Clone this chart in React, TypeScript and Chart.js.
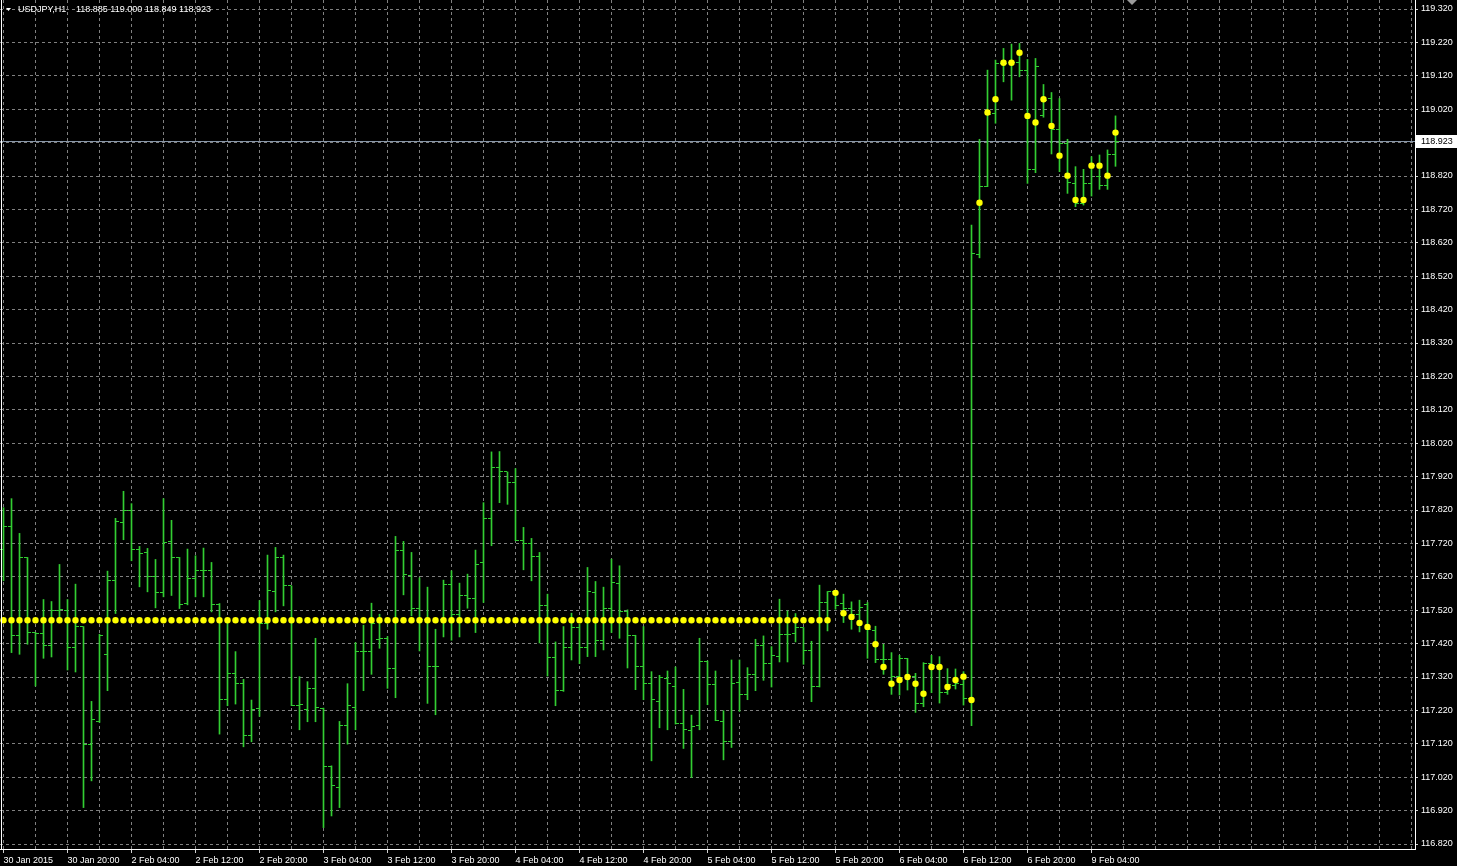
import React, { useEffect, useRef } from 'react';
import { Chart, registerables } from 'chart.js';
Chart.register(...registerables);

const headerSymbol = 'USDJPY,H1';
const headerValues = '118.885 119.000 118.849 118.923';

const opens = [
  117.703, 117.771, 117.443, 117.678, 117.453, 117.450, 117.413, 117.520, 117.520, 117.408,
  117.471, 117.119, 117.186, 117.388, 117.609, 117.783, 117.820, 117.703, 117.692, 117.620,
  117.573, 117.726, 117.678, 117.540, 117.615, 117.638, 117.640, 117.538, 117.254, 117.330,
  117.300, 117.146, 117.226, 117.480, 117.576, 117.678, 117.593, 117.234, 117.222, 117.287,
  117.227, 117.052, 116.989, 117.174, 117.229, 117.396, 117.396, 117.433, 117.435, 117.345,
  117.700, 117.625, 117.525, 117.493, 117.352, 117.493, 117.598, 117.508, 117.563, 117.555,
  117.663, 117.794, 117.947, 117.934, 117.902, 117.730, 117.720, 117.681, 117.533, 117.378,
  117.281, 117.408, 117.468, 117.408, 117.573, 117.430, 117.525, 117.600, 117.515, 117.443,
  117.351, 117.300, 117.246, 117.315, 117.291, 117.181, 117.159, 117.174, 117.366, 117.298,
  117.187, 117.126, 117.303, 117.268, 117.328, 117.413, 117.360, 117.380, 117.448, 117.451,
  117.468, 117.400, 117.293, 117.543, 117.576, 117.541, 117.525, 117.508, 117.538, 117.458,
  117.371, 117.373, 117.321, 117.376, 117.321, 117.242, 117.360, 117.350, 117.273, 117.295,
  117.299, 117.256, 118.585, 118.790, 119.008, 119.157, 119.159, 119.159, 119.135, 118.840,
  119.000, 119.052, 118.960, 118.918, 118.798, 118.738, 118.798, 118.818, 118.793, 118.885,
];
const highs = [
  117.827, 117.854, 117.750, 117.678, 117.453, 117.552, 117.546, 117.657, 117.552, 117.598,
  117.471, 117.247, 117.448, 117.637, 117.795, 117.876, 117.839, 117.711, 117.705, 117.672,
  117.854, 117.789, 117.678, 117.703, 117.683, 117.706, 117.663, 117.540, 117.483, 117.396,
  117.313, 117.251, 117.549, 117.685, 117.708, 117.685, 117.593, 117.321, 117.306, 117.436,
  117.227, 117.054, 117.187, 117.300, 117.423, 117.475, 117.541, 117.508, 117.441, 117.741,
  117.726, 117.693, 117.617, 117.589, 117.463, 117.610, 117.638, 117.601, 117.628, 117.700,
  117.842, 117.994, 117.995, 117.934, 117.944, 117.768, 117.735, 117.693, 117.568, 117.425,
  117.471, 117.511, 117.478, 117.648, 117.606, 117.589, 117.673, 117.653, 117.521, 117.445,
  117.471, 117.336, 117.325, 117.338, 117.350, 117.283, 117.206, 117.436, 117.368, 117.338,
  117.219, 117.371, 117.371, 117.348, 117.433, 117.443, 117.411, 117.553, 117.518, 117.510,
  117.468, 117.427, 117.595, 117.576, 117.578, 117.568, 117.545, 117.550, 117.543, 117.472,
  117.418, 117.393, 117.385, 117.376, 117.331, 117.363, 117.385, 117.381, 117.345, 117.344,
  117.336, 118.673, 118.930, 119.137, 119.167, 119.202, 119.215, 119.217, 119.169, 119.172,
  119.094, 119.070, 119.052, 118.930, 118.848, 118.840, 118.878, 118.883, 118.898, 119.000,
];
const lows = [
  117.608, 117.393, 117.388, 117.418, 117.293, 117.376, 117.380, 117.490, 117.341, 117.335,
  116.929, 117.009, 117.184, 117.279, 117.510, 117.731, 117.668, 117.590, 117.575, 117.527,
  117.560, 117.564, 117.525, 117.536, 117.560, 117.560, 117.515, 117.149, 117.234, 117.239,
  117.111, 117.126, 117.202, 117.463, 117.515, 117.533, 117.234, 117.162, 117.186, 117.186,
  116.869, 116.904, 116.929, 117.119, 117.162, 117.279, 117.328, 117.406, 117.286, 117.258,
  117.566, 117.503, 117.398, 117.241, 117.207, 117.440, 117.430, 117.440, 117.526, 117.453,
  117.543, 117.713, 117.842, 117.837, 117.728, 117.641, 117.608, 117.422, 117.323, 117.234,
  117.277, 117.371, 117.360, 117.381, 117.381, 117.401, 117.453, 117.436, 117.347, 117.282,
  117.252, 117.069, 117.168, 117.162, 117.179, 117.106, 117.019, 117.162, 117.237, 117.189,
  117.072, 117.109, 117.217, 117.252, 117.279, 117.310, 117.290, 117.365, 117.365, 117.425,
  117.358, 117.246, 117.290, 117.458, 117.523, 117.483, 117.463, 117.455, 117.376, 117.363,
  117.328, 117.268, 117.266, 117.281, 117.214, 117.231, 117.273, 117.242, 117.268, 117.284,
  117.236, 117.174, 118.575, 118.788, 118.978, 119.102, 119.047, 119.117, 118.798, 118.830,
  118.996, 118.886, 118.833, 118.768, 118.728, 118.733, 118.760, 118.780, 118.780, 118.849,
];
const closes = [
  117.771, 117.443, 117.678, 117.453, 117.450, 117.413, 117.520, 117.522, 117.408, 117.471,
  117.119, 117.194, 117.445, 117.609, 117.786, 117.820, 117.703, 117.690, 117.620, 117.573,
  117.723, 117.678, 117.538, 117.615, 117.638, 117.640, 117.538, 117.254, 117.330, 117.300,
  117.146, 117.224, 117.480, 117.580, 117.678, 117.595, 117.234, 117.239, 117.287, 117.229,
  117.052, 116.994, 117.176, 117.234, 117.396, 117.396, 117.480, 117.435, 117.345, 117.700,
  117.628, 117.525, 117.493, 117.352, 117.352, 117.598, 117.508, 117.565, 117.555, 117.658,
  117.794, 117.947, 117.934, 117.902, 117.730, 117.720, 117.681, 117.535, 117.378, 117.281,
  117.408, 117.468, 117.408, 117.576, 117.428, 117.525, 117.603, 117.515, 117.443, 117.351,
  117.300, 117.252, 117.318, 117.300, 117.181, 117.162, 117.172, 117.366, 117.298, 117.189,
  117.126, 117.300, 117.268, 117.326, 117.413, 117.360, 117.383, 117.448, 117.448, 117.468,
  117.400, 117.293, 117.543, 117.576, 117.533, 117.525, 117.508, 117.528, 117.463, 117.371,
  117.373, 117.321, 117.376, 117.321, 117.242, 117.360, 117.353, 117.273, 117.298, 117.300,
  117.256, 118.588, 118.790, 119.003, 119.157, 119.157, 119.159, 119.135, 118.840, 119.147,
  119.047, 118.960, 118.918, 118.800, 118.738, 118.798, 118.850, 118.793, 118.883, 118.923,
];
const indicator = [
  117.49, 117.49, 117.49, 117.49, 117.49, 117.49, 117.49, 117.49, 117.49, 117.49,
  117.49, 117.49, 117.49, 117.49, 117.49, 117.49, 117.49, 117.49, 117.49, 117.49,
  117.49, 117.49, 117.49, 117.49, 117.49, 117.49, 117.49, 117.49, 117.49, 117.49,
  117.49, 117.49, 117.49, 117.49, 117.49, 117.49, 117.49, 117.49, 117.49, 117.49,
  117.49, 117.49, 117.49, 117.49, 117.49, 117.49, 117.49, 117.49, 117.49, 117.49,
  117.49, 117.49, 117.49, 117.49, 117.49, 117.49, 117.49, 117.49, 117.49, 117.49,
  117.49, 117.49, 117.49, 117.49, 117.49, 117.49, 117.49, 117.49, 117.49, 117.49,
  117.49, 117.49, 117.49, 117.49, 117.49, 117.49, 117.49, 117.49, 117.49, 117.49,
  117.49, 117.49, 117.49, 117.49, 117.49, 117.49, 117.49, 117.49, 117.49, 117.49,
  117.49, 117.49, 117.49, 117.49, 117.49, 117.49, 117.49, 117.49, 117.49, 117.49,
  117.49, 117.49, 117.49, 117.49, 117.572, 117.511, 117.500, 117.482, 117.470, 117.418,
  117.350, 117.300, 117.311, 117.320, 117.300, 117.270, 117.350, 117.350, 117.290, 117.311,
  117.321, 117.251, 118.740, 119.010, 119.050, 119.159, 119.159, 119.189, 119.000, 118.980,
  119.050, 118.970, 118.881, 118.821, 118.748, 118.748, 118.851, 118.851, 118.821, 118.950,
];

const timeLabels = [
  '30 Jan 2015', '30 Jan 20:00', '2 Feb 04:00', '2 Feb 12:00', '2 Feb 20:00', '3 Feb 04:00',
  '3 Feb 12:00', '3 Feb 20:00', '4 Feb 04:00', '4 Feb 12:00', '4 Feb 20:00', '5 Feb 04:00',
  '5 Feb 12:00', '5 Feb 20:00', '6 Feb 04:00', '6 Feb 12:00', '6 Feb 20:00', '9 Feb 04:00',
];
const barsPerLabel = 8;
const xGridTicks = [
  0, 4, 8, 12, 16, 20, 24, 28, 32, 36, 40, 44, 48, 52, 56, 60, 64, 68, 72, 76, 80, 84, 88,
  92, 96, 100, 104, 108, 112, 116, 120, 124, 128, 132, 136, 140, 144, 148, 152, 156, 160,
  164, 168, 172, 176,
];
const yTickValues = [
  116.82, 116.92, 117.02, 117.12, 117.22, 117.32, 117.42, 117.52, 117.62, 117.72, 117.82,
  117.92, 118.02, 118.12, 118.22, 118.32, 118.42, 118.52, 118.62, 118.72, 118.82, 118.92,
  119.02, 119.12, 119.22, 119.32,
];

const BAR_COLOR = '#32cd32';
const GRID_COLOR = '#808080';
const FONT = 'Liberation Sans';

export default function App() {
  const ref = useRef<HTMLCanvasElement>(null);

  useEffect(() => {
    const canvas = ref.current;
    if (!canvas) return;
    const n = closes.length;
    const lastClose = closes[n - 1];
    const barData = highs.map((h, i) => ({ x: i, y: [lows[i], h] }));
    const dotData = indicator.map((v, i) => ({ x: i, y: v }));

    const isLabelled = (v: number) =>
      v % barsPerLabel === 0 && v / barsPerLabel < timeLabels.length;

    const ohlcTicks = {
      id: 'ohlcTicks',
      beforeDatasetsDraw(chart: any) {
        const { ctx, scales, chartArea } = chart;
        const xs = scales.x;
        const ys = scales.y;
        ctx.save();
        const py = Math.floor(ys.getPixelForValue(lastClose)) + 0.5;
        ctx.strokeStyle = '#8796a8';
        ctx.lineWidth = 1;
        ctx.beginPath();
        ctx.moveTo(chartArea.left, py);
        ctx.lineTo(chartArea.right, py);
        ctx.stroke();
        ctx.fillStyle = BAR_COLOR;
        for (let i = 0; i < n; i++) {
          const px = Math.round(xs.getPixelForValue(i) - 0.5);
          const yo = Math.floor(ys.getPixelForValue(opens[i]));
          const yc = Math.floor(ys.getPixelForValue(closes[i]));
          ctx.fillRect(px - 3, yo, 3, 1);
          ctx.fillRect(px + 1, yc, 3, 1);
        }
        ctx.restore();
      },
    };

    const overlay = {
      id: 'overlay',
      afterDraw(chart: any) {
        const { ctx, scales, chartArea } = chart;
        const ys = scales.y;
        const xs = scales.x;
        ctx.save();
        ctx.strokeStyle = '#ffffff';
        ctx.lineWidth = 1;
        ctx.beginPath();
        ctx.moveTo(1.5, 0);
        ctx.lineTo(1.5, chartArea.bottom);
        ctx.stroke();
        const py = Math.floor(ys.getPixelForValue(lastClose));
        ctx.fillStyle = '#ffffff';
        ctx.fillRect(chartArea.right + 1, py - 6, 41, 13);
        ctx.fillStyle = '#000000';
        ctx.font = `9px "${FONT}"`;
        ctx.textBaseline = 'middle';
        ctx.textAlign = 'left';
        ctx.fillText(lastClose.toFixed(3), chartArea.right + 6, py + 0.5);
        ctx.fillStyle = '#ffffff';
        ctx.beginPath();
        ctx.moveTo(6, 8);
        ctx.lineTo(11, 8);
        ctx.lineTo(8.5, 11);
        ctx.closePath();
        ctx.fill();
        ctx.fillText(headerSymbol, 18, 10);
        ctx.fillText(headerValues, 76, 10);
        const sx = Math.round(xs.getPixelForValue(141));
        ctx.fillStyle = '#9a9a9a';
        ctx.beginPath();
        ctx.moveTo(sx - 5, 0);
        ctx.lineTo(sx + 5, 0);
        ctx.lineTo(sx, 5);
        ctx.closePath();
        ctx.fill();
        ctx.restore();
      },
    };

    const chart = new Chart(canvas, {
      type: 'bar',
      data: {
        datasets: [
          {
            type: 'line',
            data: dotData,
            showLine: false,
            pointRadius: 3.2,
            pointBackgroundColor: '#ffff00',
            pointBorderWidth: 0,
            pointBorderColor: '#ffff00',
            order: 0,
          } as any,
          {
            type: 'bar',
            data: barData,
            backgroundColor: BAR_COLOR,
            borderWidth: 0,
            barThickness: 1,
            grouped: false,
            order: 1,
          } as any,
        ],
      },
      plugins: [ohlcTicks, overlay],
      options: {
        animation: false,
        responsive: false,
        events: [],
        layout: { padding: 0, autoPadding: false },
        plugins: { legend: { display: false }, tooltip: { enabled: false } },
        scales: {
          x: {
            type: 'linear',
            position: 'bottom',
            min: -0.4375,
            max: 176.4375,
            offset: false,
            afterBuildTicks: (s: any) => {
              s.ticks = xGridTicks.map((v) => ({ value: v }));
            },
            afterFit: (s: any) => {
              s.height = 17;
              s.paddingLeft = 0;
              s.paddingRight = 0;
              s.paddingTop = 0;
              s.paddingBottom = 0;
            },
            grid: {
              offset: false,
              color: GRID_COLOR,
              lineWidth: 1,
              drawTicks: true,
              tickLength: 4,
              tickColor: (c: any) =>
                c.tick && isLabelled(c.tick.value) ? '#d0d0d0' : 'rgba(0,0,0,0)',
            },
            border: { display: true, color: '#ffffff', width: 1, dash: [3, 3] },
            ticks: {
              autoSkip: false,
              maxRotation: 0,
              minRotation: 0,
              align: 'start',
              padding: 2,
              color: '#ffffff',
              font: { family: FONT, size: 9 },
              callback: (v: any) =>
                isLabelled(Number(v)) ? timeLabels[Number(v) / barsPerLabel] : '',
            },
          },
          y: {
            type: 'linear',
            position: 'right',
            min: 116.80503,
            max: 119.34695,
            afterBuildTicks: (s: any) => {
              s.ticks = yTickValues.map((v) => ({ value: v }));
            },
            afterFit: (s: any) => {
              s.width = 42;
              s.paddingLeft = 0;
              s.paddingRight = 0;
              s.paddingTop = 0;
              s.paddingBottom = 0;
            },
            grid: {
              color: GRID_COLOR,
              lineWidth: 1,
              drawTicks: true,
              tickLength: 3,
              tickColor: '#d0d0d0',
            },
            border: { display: true, color: '#ffffff', width: 1, dash: [3, 3] },
            ticks: {
              autoSkip: false,
              padding: 3,
              color: '#ffffff',
              font: { family: FONT, size: 9 },
              callback: (v: any) => Number(v).toFixed(3),
            },
          },
        },
      } as any,
    });

    return () => chart.destroy();
  }, []);

  return (
    <div
      style={{
        position: 'absolute',
        left: 0,
        top: 0,
        width: 1457,
        height: 866,
        background: '#000',
      }}
    >
      <canvas ref={ref} width={1457} height={866} style={{ display: 'block' }} />
    </div>
  );
}
